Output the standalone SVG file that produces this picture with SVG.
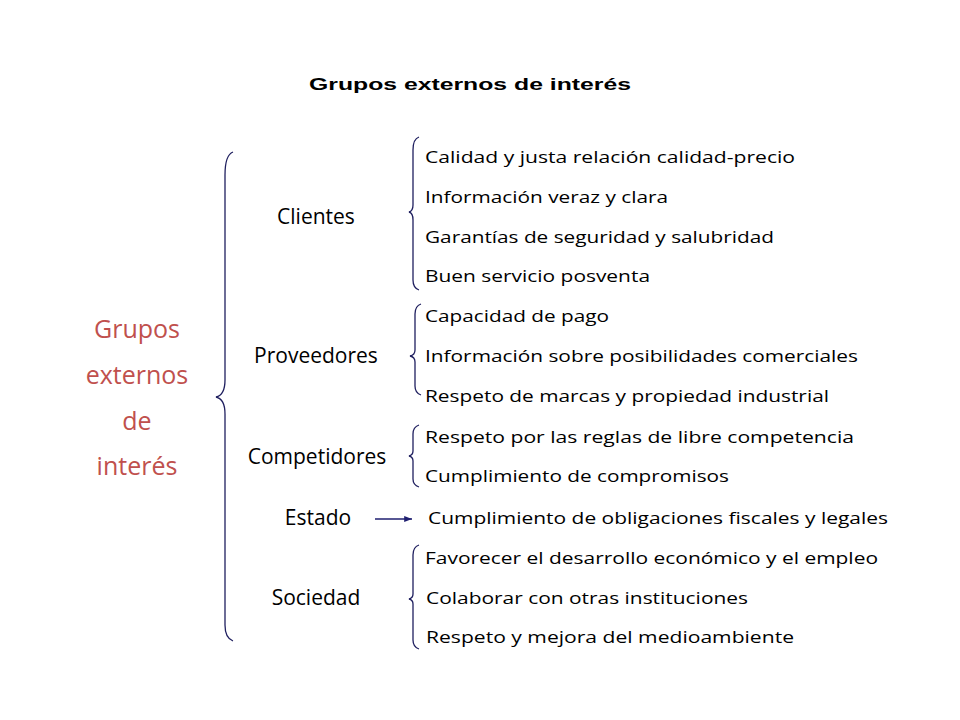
<svg xmlns="http://www.w3.org/2000/svg" width="960" height="720" viewBox="0 0 960 720">
<style>
.t{font-family:"Open Sans","Liberation Sans",sans-serif;font-size:17px;fill:#000}
.m{font-family:"Open Sans","Liberation Sans",sans-serif;font-size:21px;fill:#000;text-anchor:middle}
.r{font-family:"Open Sans","Liberation Sans",sans-serif;font-size:25px;fill:#C0504D;text-anchor:middle}
.b{fill:none;stroke:#1F1F5F;stroke-width:1.3}
</style>
<defs><marker id="ah" viewBox="0 0 10 10" refX="10" refY="5" markerWidth="6" markerHeight="6" orient="auto"><path d="M0,1 L10,5 L0,9 Z" fill="#1F1F70"/></marker></defs>
<rect width="960" height="720" fill="#fff"/>
<text x="470" y="90" text-anchor="middle" font-family="Liberation Sans,sans-serif" font-weight="bold" font-size="17" textLength="322" lengthAdjust="spacingAndGlyphs">Grupos externos de interés</text>
<g id="root"><text class="r" x="137" y="338">Grupos</text><text class="r" x="137" y="384">externos</text><text class="r" x="137" y="430">de</text><text class="r" x="137" y="475">interés</text></g>
<g id="braces">
<path class="b" d="M233,152 Q225,155 225,175 L225,380 Q225,395 216,397 Q225,399 225,414 L225,625 Q225,638 233,641"/>
<path class="b" d="M419,137 Q413,139 413,150 L413,205 Q413,211 409,212 Q413,213 413,220 L413,280 Q413,288 419,290"/>
<path class="b" d="M421,304 Q415,306 415,314 L415,350 Q415,355 410,356 Q415,357 415,362 L415,386 Q415,393 421,395"/>
<path class="b" d="M419,425 Q413,427 413,434 L413,451 Q413,455 409,456 Q413,457 413,461 L413,479 Q413,485 419,487"/>
<path class="b" d="M419,545 Q413,547 413,555 L413,594 Q413,598 409,599 Q413,600 413,604 L413,640 Q413,647 419,649"/>
</g>
<g id="connectors"><line x1="375" y1="519" x2="412" y2="519" stroke="#1F1F70" stroke-width="1.3" marker-end="url(#ah)"/></g>
<g id="clientes"><text class="m" x="316" y="224">Clientes</text>
<text class="t" x="425" y="163" textLength="370" lengthAdjust="spacingAndGlyphs">Calidad y justa relación calidad-precio</text>
<text class="t" x="425" y="203" textLength="243" lengthAdjust="spacingAndGlyphs">Información veraz y clara</text>
<text class="t" x="425" y="243" textLength="349" lengthAdjust="spacingAndGlyphs">Garantías de seguridad y salubridad</text>
<text class="t" x="425" y="282" textLength="225" lengthAdjust="spacingAndGlyphs">Buen servicio posventa</text></g>
<g id="proveedores"><text class="m" x="316" y="363">Proveedores</text>
<text class="t" x="425" y="322" textLength="184" lengthAdjust="spacingAndGlyphs">Capacidad de pago</text>
<text class="t" x="425" y="362" textLength="433" lengthAdjust="spacingAndGlyphs">Información sobre posibilidades comerciales</text>
<text class="t" x="425" y="402" textLength="404" lengthAdjust="spacingAndGlyphs">Respeto de marcas y propiedad industrial</text></g>
<g id="competidores"><text class="m" x="317" y="464">Competidores</text>
<text class="t" x="425" y="443" textLength="429" lengthAdjust="spacingAndGlyphs">Respeto  por las reglas de libre competencia</text>
<text class="t" x="425" y="482" textLength="304" lengthAdjust="spacingAndGlyphs">Cumplimiento de compromisos</text></g>
<g id="estado"><text class="m" x="318" y="525">Estado</text>
<text class="t" x="428" y="524" textLength="460" lengthAdjust="spacingAndGlyphs">Cumplimiento de obligaciones fiscales y legales</text></g>
<g id="sociedad"><text class="m" x="316" y="605">Sociedad</text>
<text class="t" x="425" y="564" textLength="453" lengthAdjust="spacingAndGlyphs">Favorecer el desarrollo económico y el empleo</text>
<text class="t" x="426" y="604" textLength="322" lengthAdjust="spacingAndGlyphs">Colaborar con otras instituciones</text>
<text class="t" x="426" y="643" textLength="368" lengthAdjust="spacingAndGlyphs">Respeto y mejora del medioambiente</text></g>
</svg>
